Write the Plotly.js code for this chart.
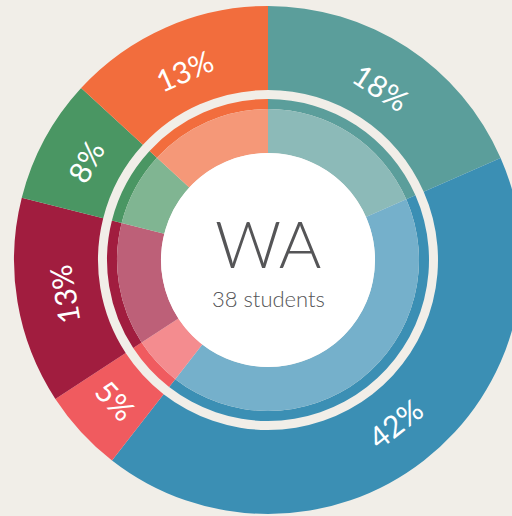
<!DOCTYPE html>
<html><head><meta charset="utf-8">
<script src="https://cdn.plot.ly/plotly-3.0.1.min.js"></script>
<style>
html,body{margin:0;padding:0;background:#f1eee8;overflow:hidden;width:512px;height:516px}
#chart{position:absolute;left:0;top:0;width:536px;height:520px}
</style>
</head><body><div id="chart"></div>
<script>
// ---- data ----
const categories = ['Group A','Group B','Group C','Group D','Group E','Group F'];
const counts = [7, 16, 2, 5, 3, 5];
const sliceColors = ['#5b9e9b','#3b8fb4','#f05b5f','#a11d3f','#4a9663','#f26d3d'];
const innerColors = ['#8cbab8','#75b0cb','#f48c8f','#bd6078','#80b592','#f59878'];
const stateLabel = 'WA';
const unitLabel = 'students';

// ---- layout geometry ----
const W = 536, H = 520, cx = 268, cy = 260;
const R_OUT = 254, R_OUT_HOLE = 170, R_RIM = 161, R_LIGHT = 151, R_CENTER = 107, R_TEXT = 207;
function dom(r){ return {x:[(cx-r)/W,(cx+r)/W], y:[(H-cy-r)/H,(H-cy+r)/H]}; }
const FONT = 'Lato, "Open Sans", sans-serif';
const total = counts.reduce((a,b)=>a+b,0);

const base = {type:'pie', labels:categories, values:counts, sort:false, direction:'clockwise',
  rotation:0, hoverinfo:'skip', showlegend:false, textinfo:'none'};

const traces = [
  Object.assign({}, base, {domain: dom(R_OUT), hole: R_OUT_HOLE/R_OUT,
    marker:{colors:sliceColors, line:{width:0}}}),
  Object.assign({}, base, {domain: dom(R_RIM), hole: R_LIGHT/R_RIM,
    marker:{colors:sliceColors, line:{width:0}}}),
  Object.assign({}, base, {domain: dom(R_LIGHT), hole: R_CENTER/R_LIGHT,
    marker:{colors:innerColors, line:{width:0}}}),
  {type:'pie', labels:['center'], values:[1], sort:false, hoverinfo:'skip', showlegend:false,
    domain: dom(R_CENTER), marker:{colors:['#ffffff'], line:{width:0}}, textinfo:'none'}
];

// percentage labels placed tangentially at the middle of each outer slice
const annotations = [];
let cum = 0;
counts.forEach((c) => {
  const mid = (cum + c/2) / total * 360; // degrees clockwise from 12 o'clock
  cum += c;
  const rad = mid * Math.PI / 180;
  const px = cx + R_TEXT * Math.sin(rad);
  const py = cy - R_TEXT * Math.cos(rad);
  let ang = mid;
  if (mid > 90 && mid < 250) ang = mid - 180;
  else if (mid >= 250) ang = mid - 360;
  annotations.push({text: Math.round(100*c/total) + '%', xref:'paper', yref:'paper',
    x: px/W, y: (H-py)/H, xanchor:'center', yanchor:'middle', textangle: ang,
    showarrow:false, font:{family:FONT, size:30, color:'#ffffff'}});
});
annotations.push(
  {text: stateLabel, xref:'paper', yref:'paper', x:0.5, y:(H-243)/H, xanchor:'center', yanchor:'middle',
   showarrow:false, font:{family:FONT, size:65, weight:300, color:'#555557'}},
  {text: total + ' ' + unitLabel, xref:'paper', yref:'paper', x:0.5, y:(H-298)/H, xanchor:'center', yanchor:'middle',
   showarrow:false, font:{family:FONT, size:22, weight:300, color:'#555557'}}
);

const layout = {
  width: W, height: H, margin:{l:0,r:0,t:0,b:0},
  paper_bgcolor:'#f1eee8', plot_bgcolor:'#f1eee8',
  annotations: annotations
};
Plotly.newPlot('chart', traces, layout, {displayModeBar:false, staticPlot:true});
</script>
</body></html>
